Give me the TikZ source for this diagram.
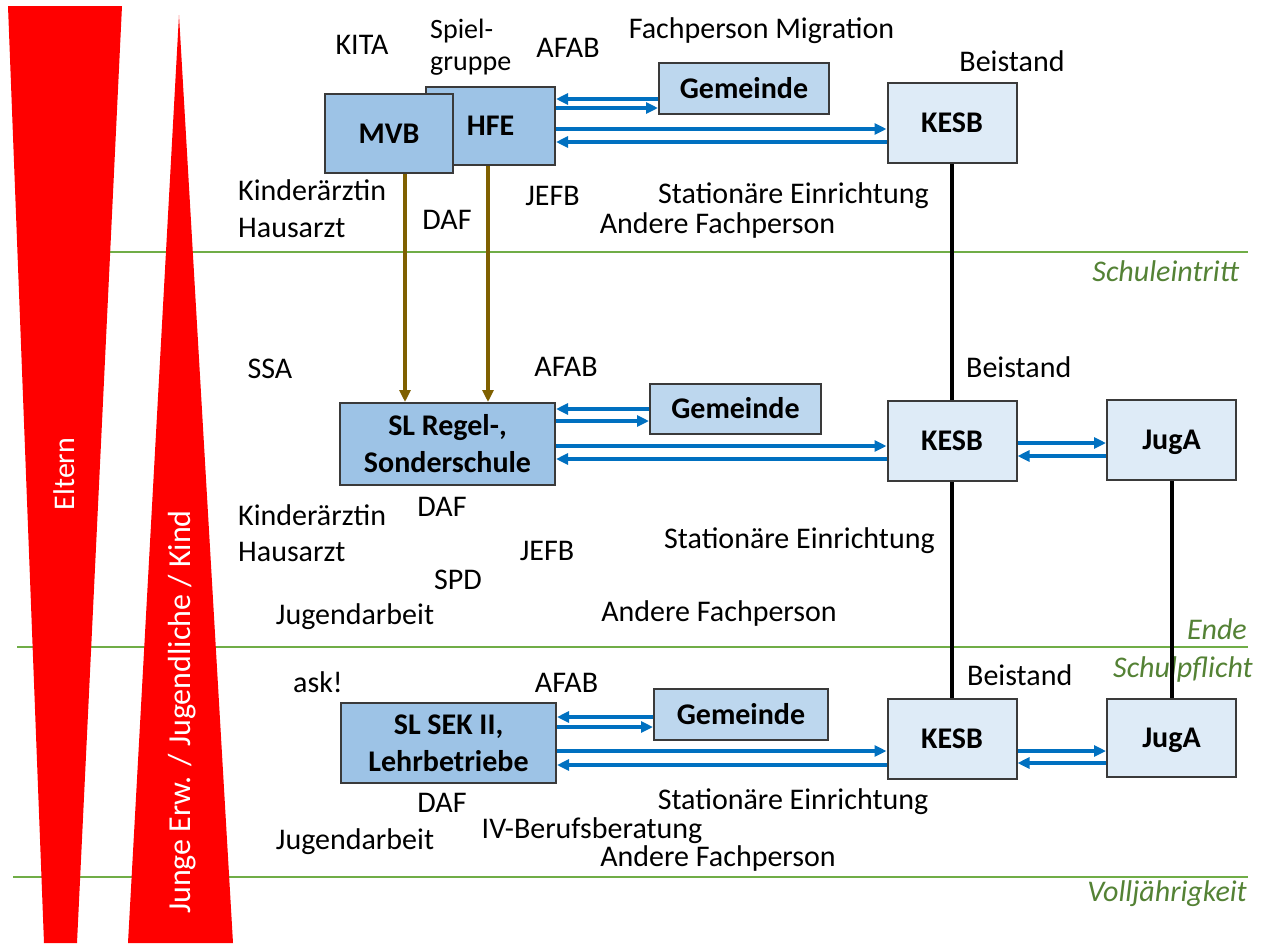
\documentclass[tikz,border=0pt]{standalone}
\usepackage{fontspec}
\setmainfont{Carlito}
\usetikzlibrary{arrows.meta}
\definecolor{boxdark}{HTML}{9DC3E6}
\definecolor{boxmid}{HTML}{BDD7EE}
\definecolor{boxlight}{HTML}{DEEBF7}
\definecolor{arrblue}{HTML}{0070C0}
\definecolor{brownarr}{HTML}{7F6000}
\definecolor{lgreen}{HTML}{70AD47}
\definecolor{tgreen}{HTML}{548235}
\definecolor{bord}{HTML}{3A3A3A}
\definecolor{redfill}{HTML}{FF0000}
\begin{document}
\begin{tikzpicture}[x=1pt,y=-1pt,
  every node/.style={font=\fontsize{30}{36}\selectfont},
  capc/.style={text height=19.3pt, text depth=0pt},
  lbl/.style={inner sep=0pt, capc},
  box/.style={draw=bord, line width=2pt, inner sep=0pt, align=center,
    font=\fontsize{30}{37}\selectfont\bfseries},
  box1/.style={box, fill=boxdark},
  box2/.style={box, fill=boxmid},
  box3/.style={box, fill=boxlight},
  barrow/.style={draw=arrblue, line width=3.5pt, -{Triangle[length=12pt,width=11pt]}},
  brarrow/.style={draw=brownarr, line width=3.5pt, -{Triangle[length=12pt,width=11pt]}},
  kline/.style={draw=black, line width=4pt},
  gline/.style={draw=lgreen, line width=2.5pt},
  glbl/.style={lbl, text=tgreen, anchor=east, font=\fontsize{30}{36}\selectfont\itshape},
  rlbl/.style={inner sep=0pt, text=white, rotate=90}
]
\useasboundingbox (0,0) rectangle (1261,943);
\fill[white] (0,0) rectangle (1261,943);

% green lines
\draw[gline] (110,252) -- (1248,252);
\draw[gline] (17,647) -- (1248,647);
\draw[gline] (13,877) -- (1248,877);
\node[glbl] (lSchul) at (1239,272) {Schuleintritt};
\node[glbl] (lEnde) at (1247,630) {Ende};
\node[glbl] (lPflicht) at (1253,668) {Schulpflicht};
\node[glbl] (lVoll) at (1247,892) {Volljährigkeit};

% red shapes
\fill[redfill] (8,6) -- (122,6) -- (77,943) -- (44,943) -- cycle;
\fill[redfill] (179,15) -- (233,943) -- (128,943) -- cycle;
\node[rlbl] (tEltern) at (64,474) {Eltern};
\node[rlbl, font=\fontsize{32}{36}\selectfont] (tJunge) at (182,712) {Junge Erw. / Jugendliche / Kind};

% ---------- top row ----------
\node[box1, capc, minimum width=129pt, minimum height=78pt] (HFE) at (490.5,126) {HFE};
\node[box1, capc, minimum width=128pt, minimum height=79pt] (MVB) at (389,133.5) {MVB};
\node[box2, capc, minimum width=170pt, minimum height=51pt] (Gem1) at (744,88.5) {Gemeinde};
\node[box3, capc, minimum width=129pt, minimum height=80pt] (KESB1) at (952,122.5) {KESB};

\draw[barrow] (Gem1.west |- 0,99) -- (HFE.east |- 0,99);
\draw[barrow] (HFE.east |- 0,108) -- (Gem1.west |- 0,108);
\draw[barrow] (HFE.east |- 0,129) -- (KESB1.west |- 0,129);
\draw[barrow] (KESB1.west |- 0,142) -- (HFE.east |- 0,142);

\node[lbl] (tKITA) at (362,45) {KITA};
\node[inner sep=0pt, anchor=base west, align=left, font=\fontsize{28}{32}\selectfont] (tSpiel) at (430,70) {Spiel-\\gruppe};
\node[lbl] (tAFAB1) at (568,47.5) {AFAB};
\node[lbl] (tFach) at (761.5,29) {Fachperson Migration};
\node[lbl] (tBei1) at (1012,62) {Beistand};
\node[lbl, anchor=west] (tKind1) at (238,191) {Kinderärztin};
\node[lbl, anchor=west] (tHaus1) at (238,228) {Hausarzt};
\node[lbl] (tDAF1) at (447,220) {DAF};
\node[lbl] (tJEFB1) at (552.5,196) {JEFB};
\node[lbl, anchor=west] (tStat1) at (658,194) {Stationäre Einrichtung};
\node[lbl] (tAnd1) at (717.5,224) {Andere Fachperson};

% ---------- middle row ----------
\node[box1, minimum width=215pt, minimum height=82pt] (SL1) at (447.5,444) {SL Regel-,\\Sonderschule};
\node[box2, capc, minimum width=171pt, minimum height=50pt] (Gem2) at (735.5,409) {Gemeinde};
\node[box3, capc, minimum width=129pt, minimum height=80pt] (KESB2) at (952,441) {KESB};
\node[box3, capc, minimum width=129pt, minimum height=80pt] (JugA2) at (1171.5,440) {JugA};

\draw[brarrow] (MVB.south -| 405,0) -- (SL1.north -| 405,0);
\draw[brarrow] (HFE.south -| 488,0) -- (SL1.north -| 488,0);

\draw[barrow] (Gem2.west |- 0,409) -- (SL1.east |- 0,409);
\draw[barrow] (SL1.east |- 0,421) -- (Gem2.west |- 0,421);
\draw[barrow] (SL1.east |- 0,446) -- (KESB2.west |- 0,446);
\draw[barrow] (KESB2.west |- 0,459) -- (SL1.east |- 0,459);
\draw[barrow] (KESB2.east |- 0,443) -- (JugA2.west |- 0,443);
\draw[barrow] (JugA2.west |- 0,456) -- (KESB2.east |- 0,456);

\draw[kline] (KESB1.south) -- (KESB2.north);

\node[lbl] (tSSA) at (270,369) {SSA};
\node[lbl] (tAFAB2) at (566,367) {AFAB};
\node[lbl, anchor=west] (tBei2) at (966,368) {Beistand};
\node[lbl] (tDAF2) at (442,507) {DAF};
\node[lbl, anchor=west] (tKind2) at (238,516) {Kinderärztin};
\node[lbl, anchor=west] (tHaus2) at (238,552) {Hausarzt};
\node[lbl] (tJEFB2) at (547,551) {JEFB};
\node[lbl] (tSPD) at (458,580) {SPD};
\node[lbl, anchor=west] (tStat2) at (664,539) {Stationäre Einrichtung};
\node[lbl] (tJug2) at (355,615) {Jugendarbeit};
\node[lbl] (tAnd2) at (719,612) {Andere Fachperson};

% ---------- bottom row ----------
\node[box1, minimum width=215pt, minimum height=80pt] (SL2) at (448.5,743) {SL SEK II,\\Lehrbetriebe};
\node[box2, capc, minimum width=174pt, minimum height=51pt] (Gem3) at (741,714.5) {Gemeinde};
\node[box3, capc, minimum width=129pt, minimum height=80pt] (KESB3) at (952,739) {KESB};
\node[box3, capc, minimum width=129pt, minimum height=78pt] (JugA3) at (1171.5,738) {JugA};

\draw[barrow] (Gem3.west |- 0,717) -- (SL2.east |- 0,717);
\draw[barrow] (SL2.east |- 0,727) -- (Gem3.west |- 0,727);
\draw[barrow] (SL2.east |- 0,751) -- (KESB3.west |- 0,751);
\draw[barrow] (KESB3.west |- 0,765) -- (SL2.east |- 0,765);
\draw[barrow] (KESB3.east |- 0,751) -- (JugA3.west |- 0,751);
\draw[barrow] (JugA3.west |- 0,763) -- (KESB3.east |- 0,763);

\draw[kline] (KESB2.south) -- (KESB3.north);
\draw[kline] (JugA2.south) -- (JugA3.north);

\node[lbl] (tAsk) at (318,683) {ask!};
\node[lbl] (tAFAB3) at (566.5,683) {AFAB};
\node[lbl, anchor=west] (tBei3) at (967,676) {Beistand};
\node[lbl] (tDAF3) at (442,803) {DAF};
\node[lbl] (tStat3) at (793,800) {Stationäre Einrichtung};
\node[lbl] (tJug3) at (355,840) {Jugendarbeit};
\node[lbl] (tIV) at (592,829) {IV-Berufsberatung};
\node[lbl] (tAnd3) at (718,857) {Andere Fachperson};
\end{tikzpicture}
\end{document}
